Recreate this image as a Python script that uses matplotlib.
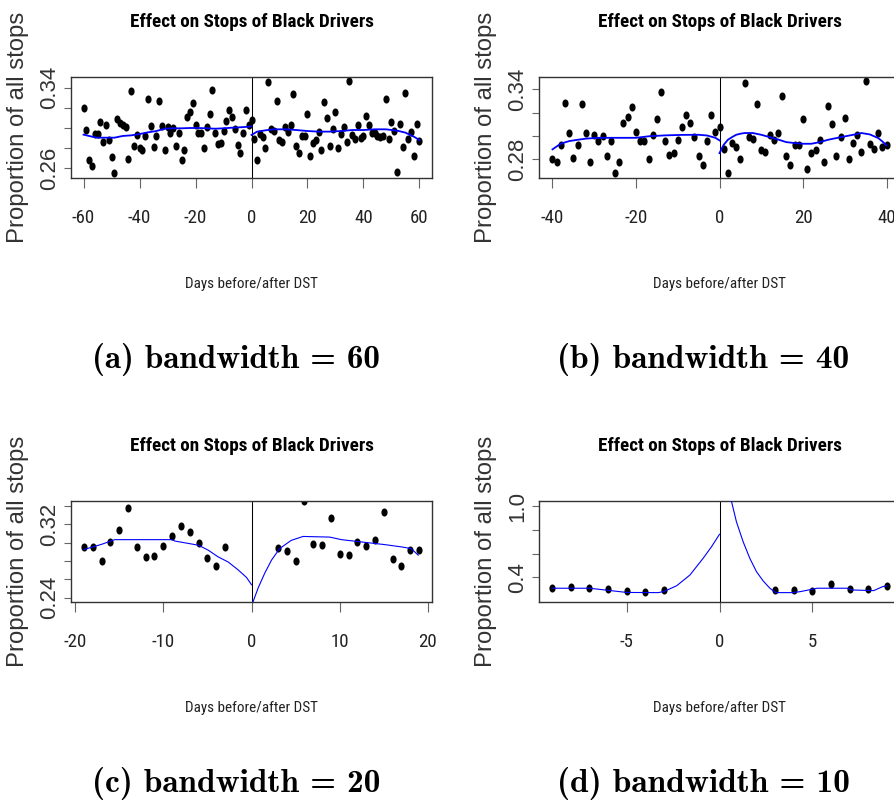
import numpy as np
import matplotlib
matplotlib.use("Agg")
import matplotlib.pyplot as plt
from matplotlib import font_manager as fm
from matplotlib.path import Path
from matplotlib.transforms import Affine2D

# ---- data: daily proportion of stops of black drivers, days around DST ----
DAYS = list(range(-60, 61))
PROP = [
    0.3197, 0.2978, 0.2684, 0.2623, 0.2937, 0.2937, 0.3055, 0.2866, 0.3028, 0.2883,   # -60..-51
    0.2714, 0.2549, 0.3089, 0.3045, 0.3028, 0.3011, 0.2697, 0.3366, 0.2819, 0.2934,   # -50..-41
    0.2800, 0.2777, 0.2925, 0.3285, 0.3023, 0.2811, 0.2920, 0.3271, 0.3023, 0.2777,   # -40..-31
    0.3011, 0.2954, 0.3000, 0.2826, 0.2954, 0.2686, 0.2777, 0.3114, 0.3160, 0.3248,   # -30..-21
    0.3034, 0.2954, 0.2954, 0.2800, 0.3011, 0.3143, 0.3377, 0.2954, 0.2840, 0.2854,   # -20..-11
    0.2968, 0.3074, 0.3180, 0.3114, 0.2994, 0.2828, 0.2749, 0.2954, 0.3183, 0.3034,   # -10..-1
    0.3077,                                                                             # 0
    0.2891, 0.2686, 0.2940, 0.2906, 0.2800, 0.3454, 0.2991, 0.2972, 0.3271, 0.2877,   # 1..10
    0.2863, 0.3011, 0.2963, 0.3026, 0.3340, 0.2826, 0.2749, 0.2920, 0.2920, 0.3143,   # 11..20
    0.2720, 0.2854, 0.2877, 0.2963, 0.2777, 0.3257, 0.3100, 0.2826, 0.2991, 0.3154,   # 21..30
    0.2800, 0.2942, 0.3011, 0.2863, 0.3469, 0.2934, 0.2891, 0.3026, 0.2903, 0.2925,   # 31..40
    0.3121, 0.3027, 0.2949, 0.2949, 0.2925, 0.2915, 0.2918, 0.3288, 0.2887, 0.3055,   # 41..50
    0.2966, 0.2565, 0.3041, 0.2812, 0.3347, 0.2887, 0.2962, 0.2720, 0.3040, 0.2870,   # 51..60
]

# fitted local regression lines (left / right of cutoff)
FIT_A_LX = [-60, -57, -55, -52, -49, -46, -43, -40, -37, -34, -31, -28, -25, -22, -19, -16, -13, -10, -7, -4, -1, 0]
FIT_A_LY = [0.2934, 0.2914, 0.2904, 0.2904, 0.2904, 0.2921, 0.2927, 0.2940, 0.2957, 0.2970, 0.2993,
            0.2997, 0.2997, 0.3000, 0.3000, 0.2997, 0.2993, 0.2997, 0.3003, 0.3007, 0.3013, 0.3017]
FIT_A_RX = [0, 2, 5, 8, 12, 16, 20, 24, 28, 32, 36, 40, 44, 48, 52, 55, 58, 60]
FIT_A_RY = [0.2931, 0.2964, 0.2977, 0.2987, 0.2987, 0.2980, 0.2970, 0.2964, 0.2964, 0.2970, 0.2980,
            0.2980, 0.2987, 0.2987, 0.2974, 0.2954, 0.2914, 0.2881]

FIT_B_LX = [-40, -38, -36, -34, -32, -29, -25, -20, -17, -13, -9, -5, -3, -1, 0]
FIT_B_LY = [0.2886, 0.2935, 0.2957, 0.2968, 0.2978, 0.2985, 0.2985, 0.2985, 0.2998, 0.3006, 0.3010,
            0.3011, 0.3005, 0.2985, 0.2963]
FIT_B_RX = [0, 1, 2, 3, 4, 5, 6, 8, 10, 12, 14, 16, 18, 20, 22, 24, 26, 28, 30, 32, 34, 36, 38, 39, 40]
FIT_B_RY = [0.2854, 0.2925, 0.2968, 0.2991, 0.3011, 0.3020, 0.3026, 0.3026, 0.3011, 0.2991, 0.2971,
            0.2948, 0.2940, 0.2934, 0.2934, 0.2948, 0.2968, 0.2983, 0.2997, 0.3011, 0.3026, 0.3014,
            0.2983, 0.2954, 0.2920]

FIT_C_LX = [-19, -17, -15.5, -9, -8.7, -6, -4.9, -3.8, -2.64, -1.5, -0.56, 0]
FIT_C_LY = [0.2925, 0.2982, 0.3033, 0.3033, 0.3018, 0.2972, 0.2918, 0.2846, 0.2789, 0.2702, 0.2620, 0.2541]
FIT_C_RX = [0, 0.75, 1.5, 2.27, 3.2, 4.5, 5.85, 8.87, 10.2, 15.1, 17, 18.1, 18.9]
FIT_C_RY = [0.2310, 0.2505, 0.2667, 0.2810, 0.2936, 0.3025, 0.3068, 0.3061, 0.3033, 0.2979, 0.2954,
            0.2936, 0.2864]

FIT_D_LX = [-9, -7, -6, -5, -3.3, -3, -2.3, -1.59, -0.88, -0.43, 0]
FIT_D_LY = [0.3075, 0.3075, 0.2900, 0.2720, 0.2705, 0.2790, 0.3290, 0.4190, 0.5600, 0.6570, 0.7620]
FIT_D_RX = [0.35, 0.65, 0.91, 1.27, 1.63, 1.99, 2.35, 2.71, 3.03, 3.96, 4.35, 5.0, 5.25, 6.9, 7.1, 8.3, 8.48, 8.78, 9]
FIT_D_RY = [1.250, 1.036, 0.868, 0.700, 0.560, 0.447, 0.369, 0.3075, 0.2705, 0.2705, 0.279, 0.299,
            0.3075, 0.3075, 0.293, 0.2875, 0.300, 0.321, 0.327]

BANDWIDTHS = [60, 40, 20, 10]
LETTERS = ["a", "b", "c", "d"]
TITLE = "Effect on Stops of Black Drivers"
XLABEL = "Days before/after DST"
YLABEL = "Proportion of all stops"

# ---- layout (pixel coords of the 895x801 page) ----
W, H = 895, 801
names = {f.name for f in fm.fontManager.ttflist}


def pick(options, default="DejaVu Sans"):
    for n in options:
        if n in names:
            return n
    return default


NARROW = pick(["Liberation Sans Narrow", "Roboto Condensed", "Open Sans Condensed",
               "DejaVu Sans Condensed", "Liberation Sans"])
SANS = pick(["Liberation Sans", "Arimo"])
SERIF_BOLD = pick(["cmb10"], "DejaVu Serif")

INK = "#222222"
BOX = "#333333"
TICK = "#666666"
DOT = Path.unit_circle().transformed(Affine2D().scale(0.72, 1.0))

# per panel: box (left, top, right, bottom) px, limits, ticks, |day| window
PANELS = [
    dict(box=(70.7, 76.7, 432.3, 178.3), xlim=(-64.6, 64.6), ylim=(0.2501, 0.3509),
         xticks=[-60, -40, -20, 0, 20, 40, 60], yticks=[0.26, 0.28, 0.30, 0.32, 0.34],
         ylab=["0.26", "", "", "", "0.34"], win=(0, 60),
         fit=(FIT_A_LX, FIT_A_LY, FIT_A_RX, FIT_A_RY), lw=1.3),
    dict(box=(538.7, 76.7, 900.3, 177.7), xlim=(-43.3, 43.3), ylim=(0.2643, 0.3509),
         xticks=[-40, -20, 0, 20, 40], yticks=[0.28, 0.30, 0.32, 0.34],
         ylab=["0.28", "", "", "0.34"], win=(0, 40),
         fit=(FIT_B_LX, FIT_B_LY, FIT_B_RX, FIT_B_RY), lw=1.3),
    dict(box=(70.7, 500.7, 432.3, 601.7), xlim=(-20.5, 20.5), ylim=(0.2356, 0.3458),
         xticks=[-20, -10, 0, 10, 20], yticks=[0.24, 0.26, 0.28, 0.30, 0.32, 0.34],
         ylab=["0.24", "", "", "", "0.32", ""], win=(3, 19),
         fit=(FIT_C_LX, FIT_C_LY, FIT_C_RX, FIT_C_RY), lw=0.8),
    dict(box=(538.7, 500.7, 900.3, 601.7), xlim=(-9.73, 9.73), ylim=(0.194, 1.045),
         xticks=[-5, 0, 5], yticks=[0.4, 0.6, 0.8, 1.0],
         ylab=["0.4", "", "", "1.0"], win=(3, 9),
         fit=(FIT_D_LX, FIT_D_LY, FIT_D_RX, FIT_D_RY), lw=0.8),
]

fig = plt.figure(figsize=(W / 100, H / 100), dpi=100)
renderer = fig.canvas.get_renderer()


def fx(px):
    return px / W


def fy(py):
    return 1 - py / H


def fit(t, target, along="x"):
    bb = t.get_window_extent(renderer)
    cur = bb.width if along == "x" else bb.height
    t.set_fontsize(t.get_fontsize() * target / cur)
    return t.get_fontsize()


days = np.array(DAYS)
prop = np.array(PROP)

for i, p in enumerate(PANELS):
    l, t, r, b = p["box"]
    ax = fig.add_axes([fx(l), fy(b), (r - l) / W, (b - t) / H])
    lo, hi = p["win"]
    keep = (np.abs(days) >= lo) & (np.abs(days) <= hi)
    ax.axvline(0, color="black", lw=0.75, zorder=1)
    ax.plot(days[keep], prop[keep], ls="none", marker=DOT, ms=4.8, color="black", zorder=2)
    lx, ly, rx, ry = p["fit"]
    ax.plot(lx, ly, color="blue", lw=p["lw"], zorder=3)
    ax.plot(rx, ry, color="blue", lw=p["lw"], zorder=3)
    ax.set_xlim(*p["xlim"])
    ax.set_ylim(*p["ylim"])
    for s in ax.spines.values():
        s.set_color(BOX)
        s.set_linewidth(1.0)

    # texts around the panel
    cx = (l + r) / 2
    ttl = fig.text(fx(cx), fy(t - 49.5), TITLE, ha="center", va="baseline",
                   fontfamily=NARROW, fontweight="bold", color="black", fontsize=12)
    fit(ttl, 245)
    xl = fig.text(fx(cx), fy(b + 110), XLABEL, ha="center", va="baseline",
                  fontfamily=NARROW, color=INK, fontsize=11)
    xsize = fit(xl, 132)
    yl = fig.text(fx(l - 52.7), fy((t + b) / 2), YLABEL, rotation=90, ha="center", va="center",
                  fontfamily=SANS, color="#333333", fontsize=14)
    ysize = fit(yl, 233, along="y")

    ax.set_xticks(p["xticks"], [str(v) for v in p["xticks"]])
    ax.set_yticks(p["yticks"], p["ylab"])
    ax.tick_params(axis="x", direction="out", length=10 * 0.72, width=0.8, color=TICK,
                   pad=15, labelsize=xsize * 1.25, labelcolor=INK, labelfontfamily=NARROW)
    ax.tick_params(axis="y", direction="out", length=7 * 0.72, width=0.8, color=TICK,
                   pad=2.5, labelsize=ysize * 0.93, labelcolor="#333333",
                   labelfontfamily=SANS, labelrotation=90)
    for lab in ax.get_yticklabels():
        lab.set_va("center")

    # subfigure caption below the panel
    cap = fig.text(fx(236 if cx < 447 else 703.5), fy(b + 190),
                   "(%s) bandwidth = %d" % (LETTERS[i], BANDWIDTHS[i]),
                   ha="center", va="baseline", fontfamily=SERIF_BOLD, fontweight="bold",
                   fontsize=18, color="black")
    fit(cap, 288 if i % 2 == 0 else 293)

fig.savefig("out.png", dpi=100, facecolor="white")
